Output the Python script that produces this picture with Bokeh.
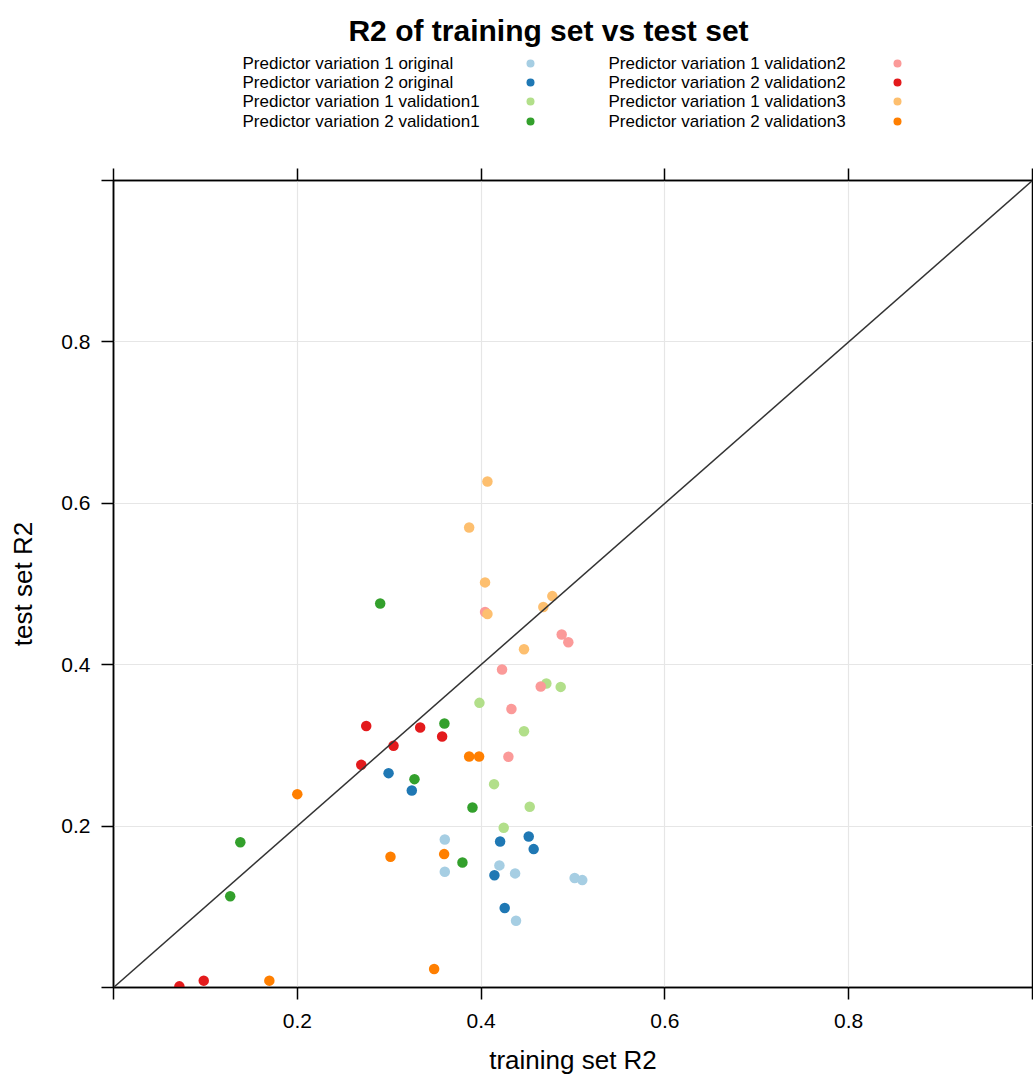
from bokeh.plotting import figure
from bokeh.layouts import column
from bokeh.models import Range1d, FixedTicker, LinearAxis, Slope, ColumnDataSource
from bokeh.core.properties import value
from bokeh.embed import file_html
from bokeh.resources import INLINE

# ---------------- data ----------------
title_text = "R2 of training set vs test set"
x_label = "training set R2"
y_label = "test set R2"

series_names = [
    "Predictor variation 1 original",
    "Predictor variation 2 original",
    "Predictor variation 1 validation1",
    "Predictor variation 2 validation1",
    "Predictor variation 1 validation2",
    "Predictor variation 2 validation2",
    "Predictor variation 1 validation3",
    "Predictor variation 2 validation3",
]
series_colors = ["#A6CEE3", "#1F78B4", "#B2DF8A", "#33A02C",
                 "#FB9A99", "#E31A1C", "#FDBF6F", "#FF7F00"]

p1_original_x = [0.3605, 0.3605, 0.4199, 0.437, 0.5018, 0.5101, 0.438]
p1_original_y = [0.1835, 0.1434, 0.1513, 0.1414, 0.1356, 0.1331, 0.0827]
p2_original_x = [0.2993, 0.3246, 0.4207, 0.4518, 0.4572, 0.4145, 0.4257]
p2_original_y = [0.2656, 0.2442, 0.181, 0.1872, 0.1715, 0.139, 0.0985]
p1_val1_x = [0.471, 0.4866, 0.3982, 0.4467, 0.4141, 0.4529, 0.4246]
p1_val1_y = [0.3767, 0.3725, 0.3527, 0.3176, 0.252, 0.2239, 0.1979]
p2_val1_x = [0.2902, 0.3601, 0.3275, 0.3906, 0.3797, 0.138, 0.127]
p2_val1_y = [0.4758, 0.3272, 0.2582, 0.2231, 0.155, 0.180, 0.113]
p1_val2_x = [0.4043, 0.4877, 0.4949, 0.4228, 0.4649, 0.433, 0.4297]
p1_val2_y = [0.4654, 0.4374, 0.4279, 0.394, 0.373, 0.345, 0.286]
p2_val2_x = [0.275, 0.3337, 0.3576, 0.3047, 0.2696, 0.0982, 0.0717]
p2_val2_y = [0.324, 0.3222, 0.311, 0.2995, 0.2759, 0.0085, 0.0014]
p1_val3_x = [0.4069, 0.387, 0.4043, 0.4775, 0.4677, 0.4069, 0.4467]
p1_val3_y = [0.627, 0.570, 0.502, 0.485, 0.4716, 0.4629, 0.4192]
p2_val3_x = [0.387, 0.3978, 0.3014, 0.3598, 0.3489, 0.2, 0.1696]
p2_val3_y = [0.2863, 0.2863, 0.162, 0.1653, 0.0229, 0.2396, 0.0085]

series_x = [p1_original_x, p2_original_x, p1_val1_x, p2_val1_x,
            p1_val2_x, p2_val2_x, p1_val3_x, p2_val3_x]
series_y = [p1_original_y, p2_original_y, p1_val1_y, p2_val1_y,
            p1_val2_y, p2_val2_y, p1_val3_y, p2_val3_y]

tick_values = [0.0, 0.2, 0.4, 0.6, 0.8, 1.0]
tick_labels = ["", "0.2", "0.4", "0.6", "0.8", ""]

FONT = "Liberation Sans"
W = 1033
TOP_H = 158
MAIN_H = 919
FRAME_L = 113
FRAME_R = 1032

# ---------------- header (title + legend) ----------------
# the header's frame is aligned with the main frame, so its x range is given in page pixels
top = figure(width=W, height=TOP_H, x_range=Range1d(FRAME_L, FRAME_R), y_range=Range1d(TOP_H, 0),
             output_backend="svg", toolbar_location=None,
             x_axis_location=None, y_axis_location=None, min_border=0,
             min_border_left=FRAME_L, min_border_right=W - FRAME_R)
top.outline_line_color = None
top.grid.visible = False

top.text(x=[548], y=[30], text=[title_text], text_font=value(FONT),
         text_font_style="bold", text_font_size="30px",
         text_align="center", text_baseline="middle", text_color="black")

col_text_x = [242, 608]
col_dot_x = [530, 897]
row_y = [63, 82, 101, 121]
lt_x, lt_y, lt_t, ld_x, ld_y, ld_c = [], [], [], [], [], []
for i, (name, col) in enumerate(zip(series_names, series_colors)):
    c, r = divmod(i, 4)
    lt_x.append(col_text_x[c]); lt_y.append(row_y[r]); lt_t.append(name)
    ld_x.append(col_dot_x[c]); ld_y.append(row_y[r]); ld_c.append(col)
top.text(x=lt_x, y=lt_y, text=lt_t, text_font=value(FONT), text_font_size="17px",
         text_align="left", text_baseline="middle", text_color="black")
top.scatter(x=ld_x, y=ld_y, color=ld_c, size=8, line_color=None)

# ---------------- main plot ----------------
p = figure(width=W, height=MAIN_H, x_range=Range1d(0, 1), y_range=Range1d(0, 1),
           output_backend="svg", toolbar_location=None,
           min_border_left=FRAME_L, min_border_right=W - FRAME_R,
           min_border_top=22, min_border_bottom=89)
p.outline_line_color = "black"
p.outline_line_width = 1.5

ticker = FixedTicker(ticks=tick_values)
overrides = {v: l for v, l in zip(tick_values, tick_labels)}

for ax in (p.xaxis[0], p.yaxis[0]):
    ax.ticker = ticker
    ax.major_label_overrides = overrides
    ax.minor_tick_line_color = None
    ax.major_tick_in = 0
    ax.major_tick_out = 12
    ax.major_tick_line_color = "black"
    ax.major_tick_line_width = 1.5
    ax.axis_line_color = "black"
    ax.axis_line_width = 1.5
    ax.major_label_text_font = FONT
    ax.major_label_text_font_size = "21px"
    ax.major_label_text_color = "black"
    ax.axis_label_text_font = FONT
    ax.axis_label_text_font_size = "26px"
    ax.axis_label_text_font_style = "normal"
    ax.axis_label_text_color = "black"

p.xaxis[0].axis_label = x_label
p.yaxis[0].axis_label = y_label
p.xaxis[0].major_label_standoff = 14
p.yaxis[0].major_label_standoff = 11
p.xaxis[0].axis_label_standoff = 14
p.yaxis[0].axis_label_standoff = 20

top_axis = LinearAxis(ticker=ticker, major_label_overrides={v: "" for v in tick_values},
                      major_tick_in=0, major_tick_out=12, major_tick_line_width=1.5,
                      minor_tick_line_color=None, axis_line_width=1.5,
                      major_label_standoff=0, major_label_text_font_size="1px")
p.add_layout(top_axis, "above")

p.xgrid.ticker = ticker
p.ygrid.ticker = ticker
p.grid.grid_line_color = "#E6E6E6"
p.grid.grid_line_width = 1.2

p.add_layout(Slope(gradient=1, y_intercept=0, line_color="#333333", line_width=1.5))

for xs, ys, col in zip(series_x, series_y, series_colors):
    src = ColumnDataSource(dict(x=xs, y=ys))
    p.scatter("x", "y", source=src, size=10.5, fill_color=col, line_color=None)

layout = column(top, p, spacing=0)
open("out.html", "w").write(file_html(layout, INLINE))
